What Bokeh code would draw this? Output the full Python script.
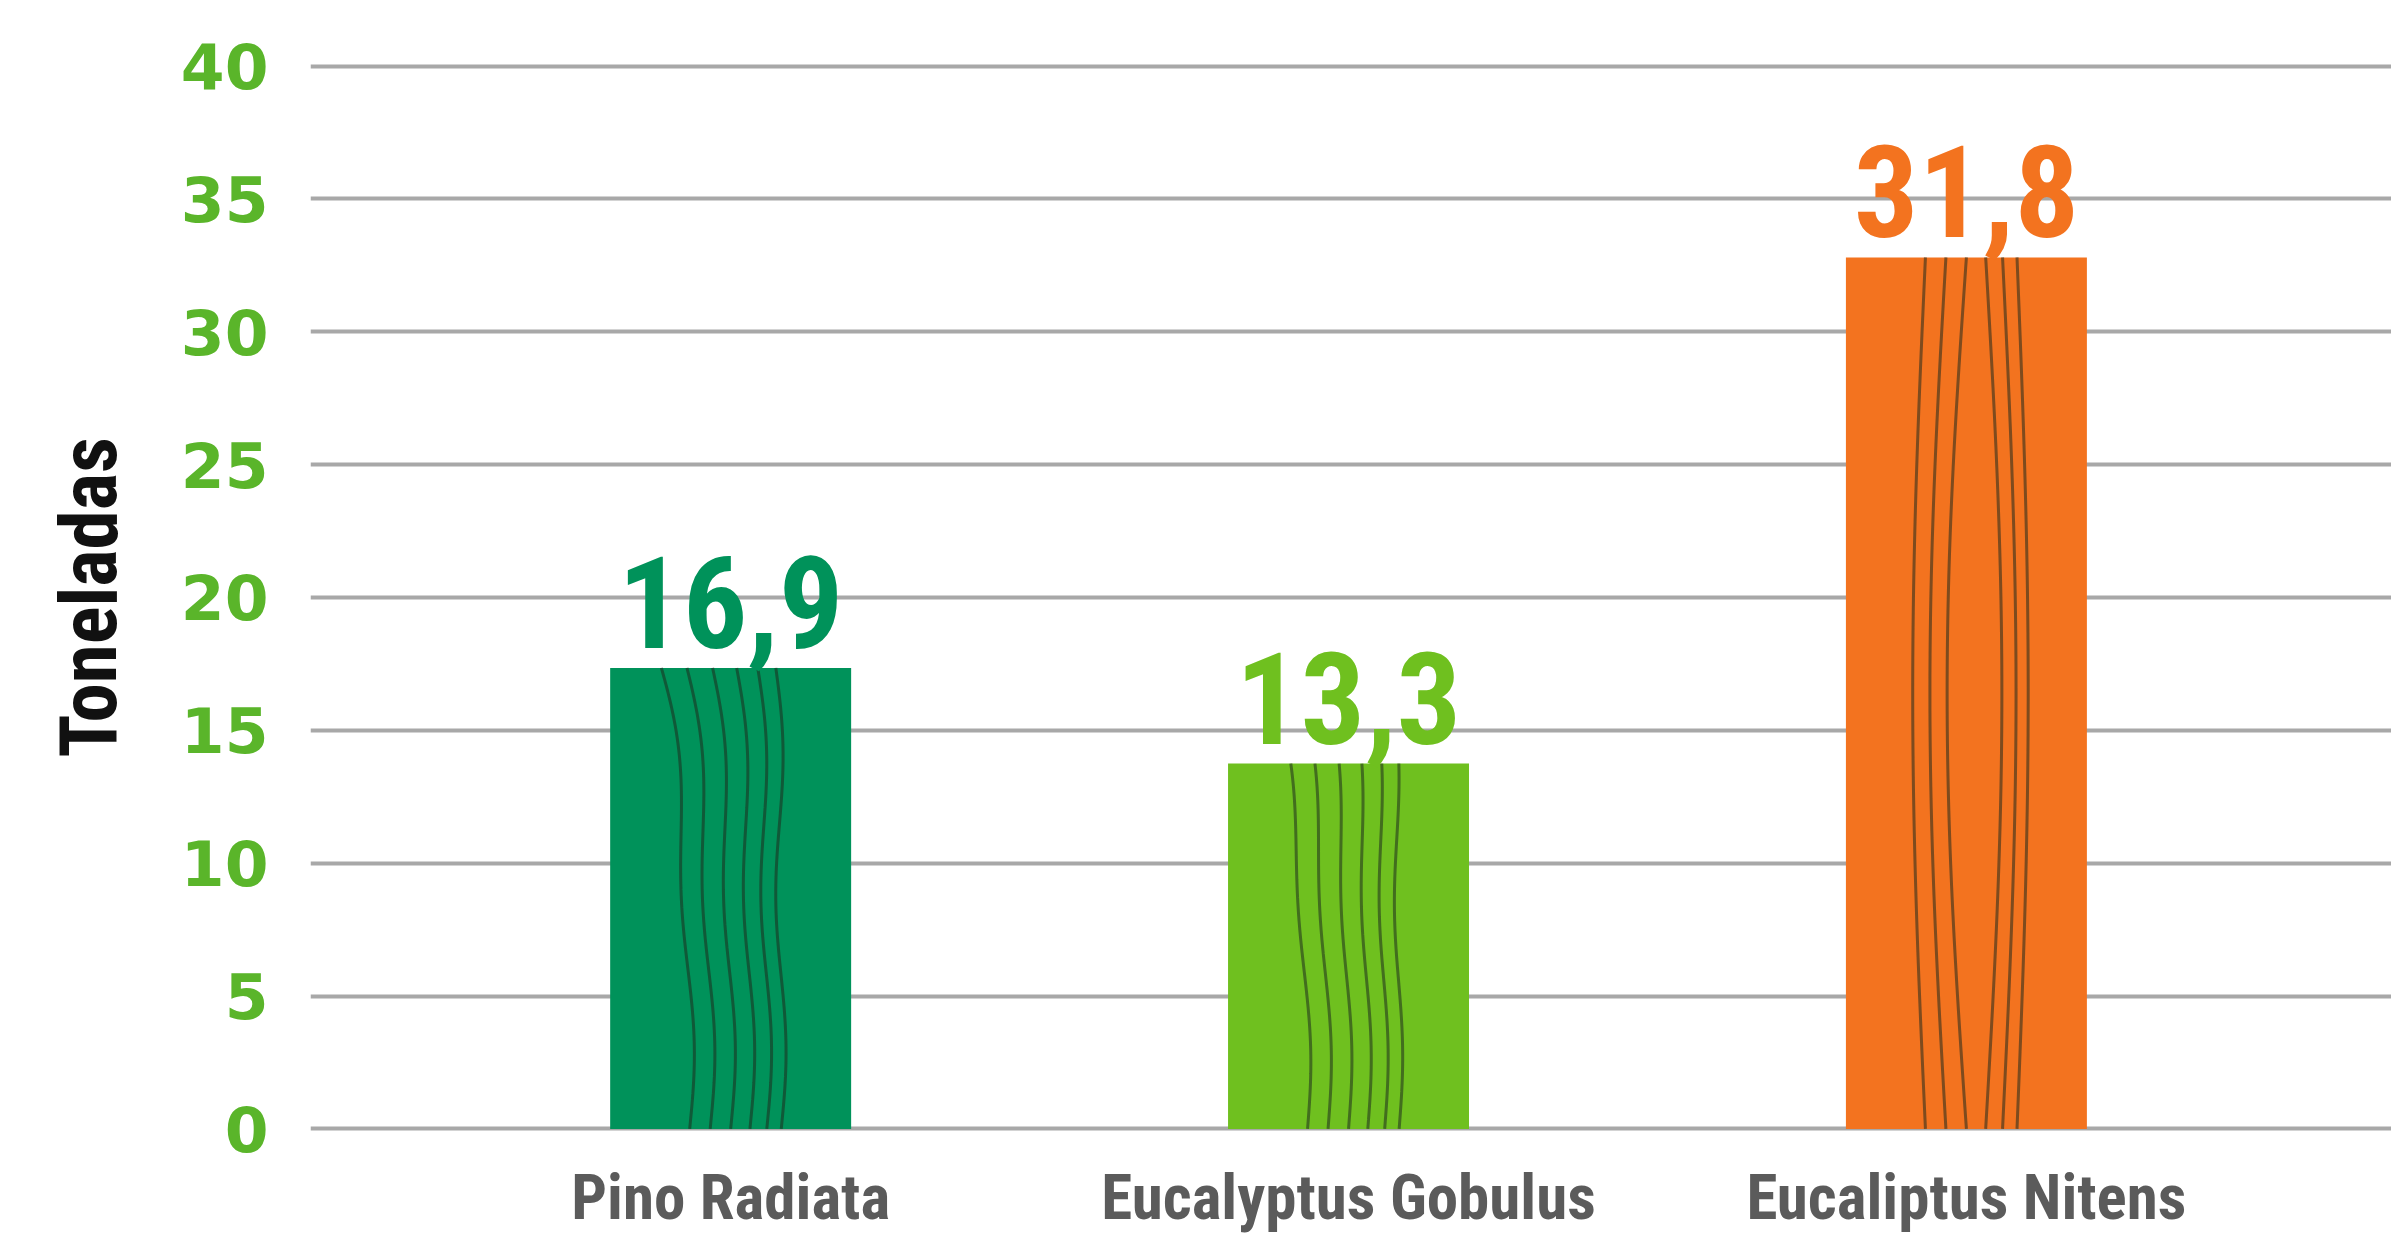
import numpy as np
from bokeh.plotting import figure
from bokeh.models import Range1d, FixedTicker, ColumnDataSource, Title
from bokeh.core.properties import value
from bokeh.embed import file_html
from bokeh.resources import INLINE

# ---- data ----
categories = ["Pino Radiata", "Eucalyptus Gobulus", "Eucaliptus Nitens"]
values = [16.9, 13.3, 31.8]                    # printed values (toneladas)
value_labels = ["16,9", "13,3", "31,8"]
bar_heights = [17.35, 13.75, 32.8]             # bar tops as drawn against the grid
bar_colors = ["#00925a", "#6fc01f", "#f3731f"]
y_ticks = [0, 5, 10, 15, 20, 25, 30, 35, 40]
y_title = "Toneladas"

COND = "Liberation Sans Narrow, Roboto Condensed, DejaVu Sans Condensed, sans-serif"

idx = list(range(len(categories)))
bar_width = 0.39

p = figure(width=2391, height=1233, output_backend="svg", toolbar_location=None,
           x_range=Range1d(-0.68, 2.688), y_range=Range1d(-3.937, 41.34),
           min_border_left=310, min_border_top=30, min_border_right=0,
           min_border_bottom=0)
p.outline_line_color = None
p.background_fill_color = "white"
p.border_fill_color = "white"

# grid
p.xgrid.grid_line_color = None
p.ygrid.ticker = FixedTicker(ticks=y_ticks)
p.ygrid.grid_line_color = "#a8a8a8"
p.ygrid.grid_line_width = 4

src = ColumnDataSource(dict(x=idx, top=bar_heights, color=bar_colors,
                            label=value_labels, base=[0] * len(idx),
                            cat=categories))
p.vbar(x="x", top="top", bottom=0, width=bar_width, fill_color="color",
       line_color=None, source=src)

# decorative wood-grain texture inside each bar (derived from bar geometry)
t = np.linspace(0, 1, 80)
gx, gy = [], []
offsets = [-0.34, -0.17, 0.0, 0.16, 0.3, 0.42]
for i, h in zip(idx, bar_heights):
    half = bar_width / 2
    for k, f in enumerate(offsets):
        if i == 2:
            wave = 0.16 * np.sin(np.pi * t) * (1 if f > 0 else -1) * (1 - abs(f))
        elif i == 0:
            wave = -0.25 * t ** 3 * (1 - (f + 0.4)) + 0.04 * np.sin(3 * np.pi * t)
        else:
            wave = -0.18 * t ** 2.5 * (1 - (f + 0.4)) + 0.03 * np.sin(2.5 * np.pi * t)
        xs = np.clip(i + half * (f + wave), i - half, i + half)
        gx.append(list(xs))
        gy.append(list(t * h))
p.multi_line(xs=gx, ys=gy, line_color="#1d2a1d", line_alpha=0.55, line_width=3)

# value labels
p.text(x="x", y="top", text="label", text_color="color", source=src,
       text_align="center", text_baseline="alphabetic", y_offset=-66,
       text_font=value(COND), text_font_style="bold", text_font_size="128px")

# category labels under the baseline
p.text(x="x", y="base", text="cat", text_color="#5b5b5b", source=src,
       text_align="center", text_baseline="top", y_offset=32,
       text_font=value(COND), text_font_style="bold", text_font_size="63px")

# y axis
ya = p.yaxis[0]
ya.ticker = FixedTicker(ticks=y_ticks)
ya.axis_line_color = None
ya.major_tick_line_color = None
ya.minor_tick_line_color = None
ya.major_label_text_color = "#5ab52a"
ya.major_label_text_font = "DejaVu Sans"
ya.major_label_text_font_style = "bold"
ya.major_label_text_font_size = "63px"
ya.major_label_standoff = 36

# y title as a left-side title; starts 476px above the frame bottom
yt = Title(text=y_title, align="left", vertical_align="top", offset=476,
           text_color="#111111", text_font=COND, text_font_style="bold",
           text_font_size="79px")
try:
    yt.standoff = 81
except Exception:
    pass
p.add_layout(yt, "left")

p.xaxis.visible = False

open("out.html", "w").write(file_html(p, INLINE))
